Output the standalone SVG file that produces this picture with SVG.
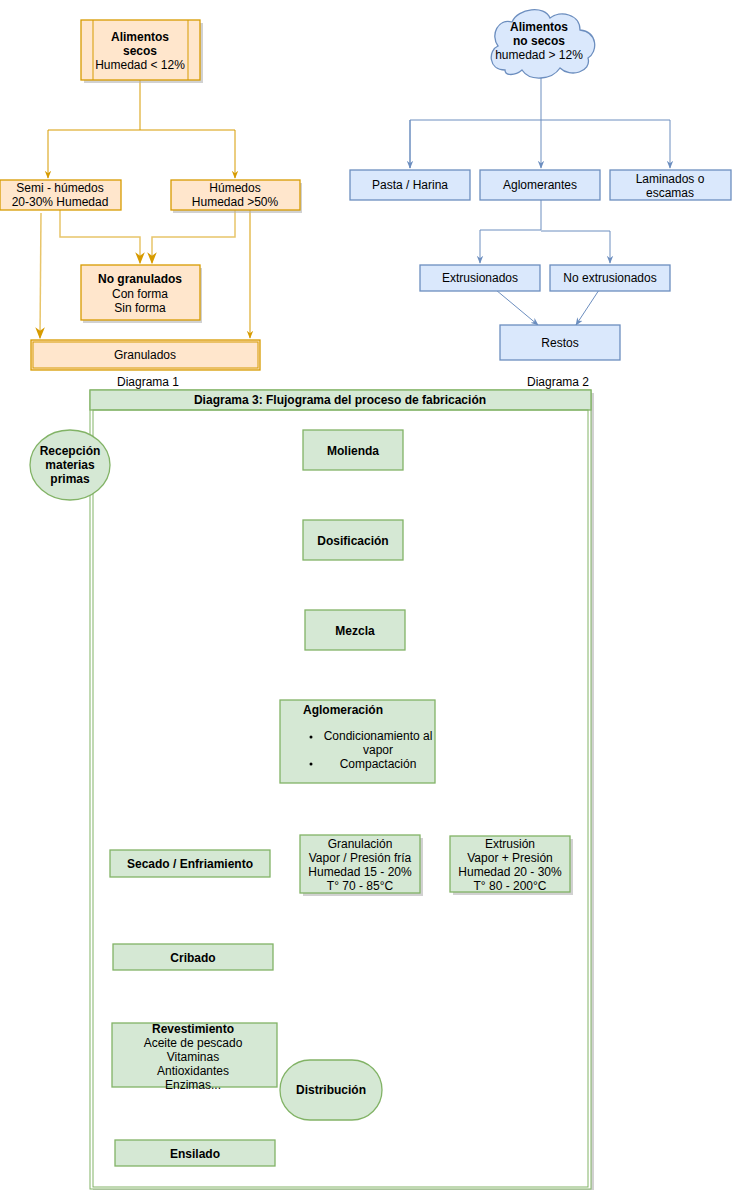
<svg xmlns="http://www.w3.org/2000/svg" width="733" height="1191" viewBox="0 0 733 1191">
<defs>
<style>
text{font-family:"Liberation Sans",Arial,sans-serif;font-size:12px;text-anchor:middle;fill:#000}
.b{font-weight:bold}
.o{fill:#ffe6cc;stroke:#d79b00;stroke-width:1.3}
.bl{fill:#dae8fc;stroke:#6c8ebf;stroke-width:1.3}
.g{fill:#d5e8d4;stroke:#82b366;stroke-width:1.3}
.sh{fill:#b3b3b3;opacity:.6}
.lo{fill:none;stroke:#d79b00;stroke-width:1}
.lo2{fill:none;stroke:#e8c56a;stroke-width:1.5}
.lb{fill:none;stroke:#6c8ebf;stroke-width:1}
.lg{fill:none;stroke:#82b366;stroke-width:1}
.lk{fill:none;stroke:#000;stroke-width:1}
</style>
<marker id="ao" viewBox="0 0 10 10" refX="9" refY="5" markerWidth="8" markerHeight="8" orient="auto"><path d="M0,1 L10,5 L0,9 L3,5z" fill="#d79b00"/></marker>
<marker id="ab" viewBox="0 0 10 10" refX="9" refY="5" markerWidth="8" markerHeight="8" orient="auto"><path d="M0,1 L10,5 L0,9 L3,5z" fill="#6c8ebf"/></marker>
<marker id="ag" viewBox="0 0 10 10" refX="9" refY="5" markerWidth="8" markerHeight="8" orient="auto"><path d="M0,1 L10,5 L0,9 L3,5z" fill="#82b366"/></marker>
<marker id="ak" viewBox="0 0 10 10" refX="9" refY="5" markerWidth="8" markerHeight="8" orient="auto"><path d="M0,1 L10,5 L0,9 L3,5z" fill="#000"/></marker>
</defs>
<rect width="733" height="1191" fill="#fff"/>
<g id="connectors">
<path class="lo" d="M140,80 V130 H48 V178" marker-end="url(#ao)"/>
<path class="lo" d="M140,130 H235 V178" marker-end="url(#ao)"/>
<path class="lo2" d="M60,210 V237 H140 V263" marker-end="url(#ao)"/>
<path class="lo2" d="M235,210 V237 H152 V263" marker-end="url(#ao)"/>
<path class="lo2" d="M41,213 L40,338" marker-end="url(#ao)"/>
<path class="lo" d="M250,210 V338" marker-end="url(#ao)"/>
<path class="lb" d="M541,78 V168" marker-end="url(#ab)"/>
<path class="lb" d="M410,168 V120 H670 V168" marker-end="url(#ab)"/>
<path class="lb" d="M410,120 V168" marker-end="url(#ab)"/>
<path class="lb" d="M541,200 V230 H480 V263" marker-end="url(#ab)"/>
<path class="lb" d="M541,231 H610 V263" marker-end="url(#ab)" stroke-width="1.5"/>
<path class="lb" d="M496,290 L538,325" marker-end="url(#ab)" stroke-width="1.5"/>
<path class="lb" d="M599,290 L576,325" marker-end="url(#ab)"/>
<path class="lk" d="M110,463 H301" marker-end="url(#ak)"/>
<path class="lk" d="M353,470 V519" marker-end="url(#ak)"/>
<path class="lg" d="M353,560 L357,608" marker-end="url(#ag)"/>
<path class="lg" d="M355,650 L359,698" marker-end="url(#ag)"/>
<path class="lg" d="M310,783 V797 L190,820 V848" marker-end="url(#ag)"/>
<path d="M435,783 L360,797 L359,818 L330,833" fill="none" stroke="#82b366" stroke-width="4"/>
<path d="M435,783 L360,797 L359,818 L330,833" fill="none" stroke="#fff" stroke-width="2"/>
<path d="M398,785 L407,797 L515,819 L522,833" fill="none" stroke="#82b366" stroke-width="4"/>
<path d="M398,785 L407,797 L515,819 L522,833" fill="none" stroke="#fff" stroke-width="2"/>
<path class="lg" d="M190,877 L193,942" marker-end="url(#ag)"/>
<path class="lg" d="M193,970 L195,1021" marker-end="url(#ag)"/>
<path class="lg" d="M195,1087 V1138" marker-end="url(#ag)"/>
<path class="lg" d="M275,1153 L298,1120" marker-end="url(#ag)"/>
</g>
<g id="d1-secos"><rect class="sh" x="84" y="23" width="119" height="60"/><rect class="o" x="81" y="20" width="119" height="60"/><path class="lo" d="M93,20V80M188,20V80"/><text class="b" x="140" y="41">Alimentos</text><text class="b" x="140" y="55">secos</text><text x="140" y="69">Humedad &lt; 12%</text></g>
<g id="d1-semi"><rect class="o" x="0" y="180" width="121" height="30"/><text x="60" y="192">Semi - húmedos</text><text x="60" y="206">20-30% Humedad</text></g>
<g id="d1-hum"><rect class="sh" x="173" y="183" width="129" height="30"/><rect class="o" x="171" y="180" width="129" height="30"/><text x="235" y="192">Húmedos</text><text x="235" y="206">Humedad &gt;50%</text></g>
<g id="d1-nogran"><rect class="sh" x="83" y="268" width="119" height="55"/><rect class="o" x="81" y="265" width="119" height="55"/><text class="b" x="140" y="283">No  granulados</text><text x="140" y="298">Con forma</text><text x="140" y="312">Sin forma</text></g>
<g id="d1-gran"><rect class="o" x="31" y="340" width="229" height="30"/><rect x="33" y="342" width="225" height="26" fill="none" stroke="#d79b00"/><text x="145" y="359">Granulados</text></g>
<text x="148" y="386" font-size="9">Diagrama 1</text>
<g id="d2-cloud"><path d="M505,70 C488,70 488,50 498,46 C490,35 498,18 512,22 C518,8 545,5 550,18 C560,10 580,14 580,30 C598,32 598,52 588,58 C592,72 570,78 560,68 C552,80 530,82 522,70 C515,76 505,76 505,70Z" class="bl"/><text class="b" x="539" y="31">Alimentos</text><text class="b" x="539" y="45">no secos</text><text x="539" y="59">humedad &gt; 12%</text></g>
<g id="d2-pasta"><rect class="bl" x="350" y="170" width="120" height="30"/><text x="410" y="189">Pasta / Harina</text></g>
<g id="d2-aglo"><rect class="bl" x="480" y="170" width="120" height="30"/><text x="540" y="189">Aglomerantes</text></g>
<g id="d2-lam"><rect class="bl" x="610" y="170" width="121" height="30"/><text x="670" y="183">Laminados o</text><text x="670" y="197">escamas</text></g>
<g id="d2-ext"><rect class="bl" x="420" y="265" width="120" height="26"/><text x="480" y="282">Extrusionados</text></g>
<g id="d2-noext"><rect class="bl" x="550" y="265" width="120" height="26"/><text x="610" y="282">No extrusionados</text></g>
<g id="d2-restos"><rect class="bl" x="500" y="325" width="120" height="35"/><text x="560" y="347">Restos</text></g>
<text x="558" y="386" font-size="9">Diagrama 2</text>
<g id="d3-frame"><rect class="sh" x="93" y="393" width="501" height="797"/><rect x="90" y="390" width="501" height="799" fill="#fff" stroke="#82b366"/><rect class="g" x="90" y="390" width="501" height="20"/><rect x="93" y="410" width="495" height="777" fill="none" stroke="#82b366"/><text class="b" x="340" y="404">Diagrama 3: Flujograma del proceso de fabricación</text></g>
<g id="recepcion"><ellipse class="g" cx="70" cy="465" rx="40" ry="35" stroke-width="2"/><text class="b" x="70" y="455">Recepción</text><text class="b" x="70" y="469">materias</text><text class="b" x="70" y="483">primas</text></g>
<g id="molienda"><rect class="g" x="303" y="430" width="100" height="40"/><text class="b" x="353" y="455">Molienda</text></g>
<g id="dosif"><rect class="g" x="303" y="520" width="100" height="40"/><text class="b" x="353" y="545">Dosificación</text></g>
<g id="mezcla"><rect class="g" x="305" y="610" width="100" height="40"/><text class="b" x="355" y="635">Mezcla</text></g>
<g id="aglomeracion"><rect class="g" x="280" y="700" width="155" height="83"/><text class="b" x="343" y="714">Aglomeración</text><circle cx="311" cy="737" r="1.5"/><circle cx="311" cy="764" r="1.5"/><text x="378" y="740">Condicionamiento al</text><text x="378" y="754">vapor</text><text x="378" y="768">Compactación</text></g>
<g id="secado"><rect class="g" x="110" y="850" width="160" height="27"/><text class="b" x="190" y="868">Secado / Enfriamiento</text></g>
<g id="granulacion"><rect class="sh" x="303" y="838" width="120" height="58"/><rect class="g" x="300" y="835" width="120" height="58"/><text x="360" y="848">Granulación</text><text x="360" y="862">Vapor / Presión fría</text><text x="360" y="876">Humedad 15 - 20%</text><text x="360" y="890">T° 70 - 85°C</text></g>
<g id="extrusion"><rect class="sh" x="453" y="839" width="120" height="56"/><rect class="g" x="450" y="836" width="120" height="56"/><text x="510" y="848">Extrusión</text><text x="510" y="862">Vapor + Presión</text><text x="510" y="876">Humedad 20 - 30%</text><text x="510" y="890">T° 80 - 200°C</text></g>
<g id="cribado"><rect class="g" x="113" y="944" width="160" height="26"/><text class="b" x="193" y="962">Cribado</text></g>
<g id="revest"><rect class="g" x="112" y="1023" width="165" height="64"/><text class="b" x="193" y="1033">Revestimiento</text><text x="193" y="1047">Aceite de pescado</text><text x="193" y="1061">Vitaminas</text><text x="193" y="1075">Antioxidantes</text><text x="193" y="1089">Enzimas...</text></g>
<g id="ensilado"><rect class="g" x="115" y="1140" width="160" height="26"/><text class="b" x="195" y="1158">Ensilado</text></g>
<g id="distrib"><rect class="g" x="280" y="1060" width="102" height="60" rx="30" stroke-width="2"/><text class="b" x="331" y="1094">Distribución</text></g>
</svg>
